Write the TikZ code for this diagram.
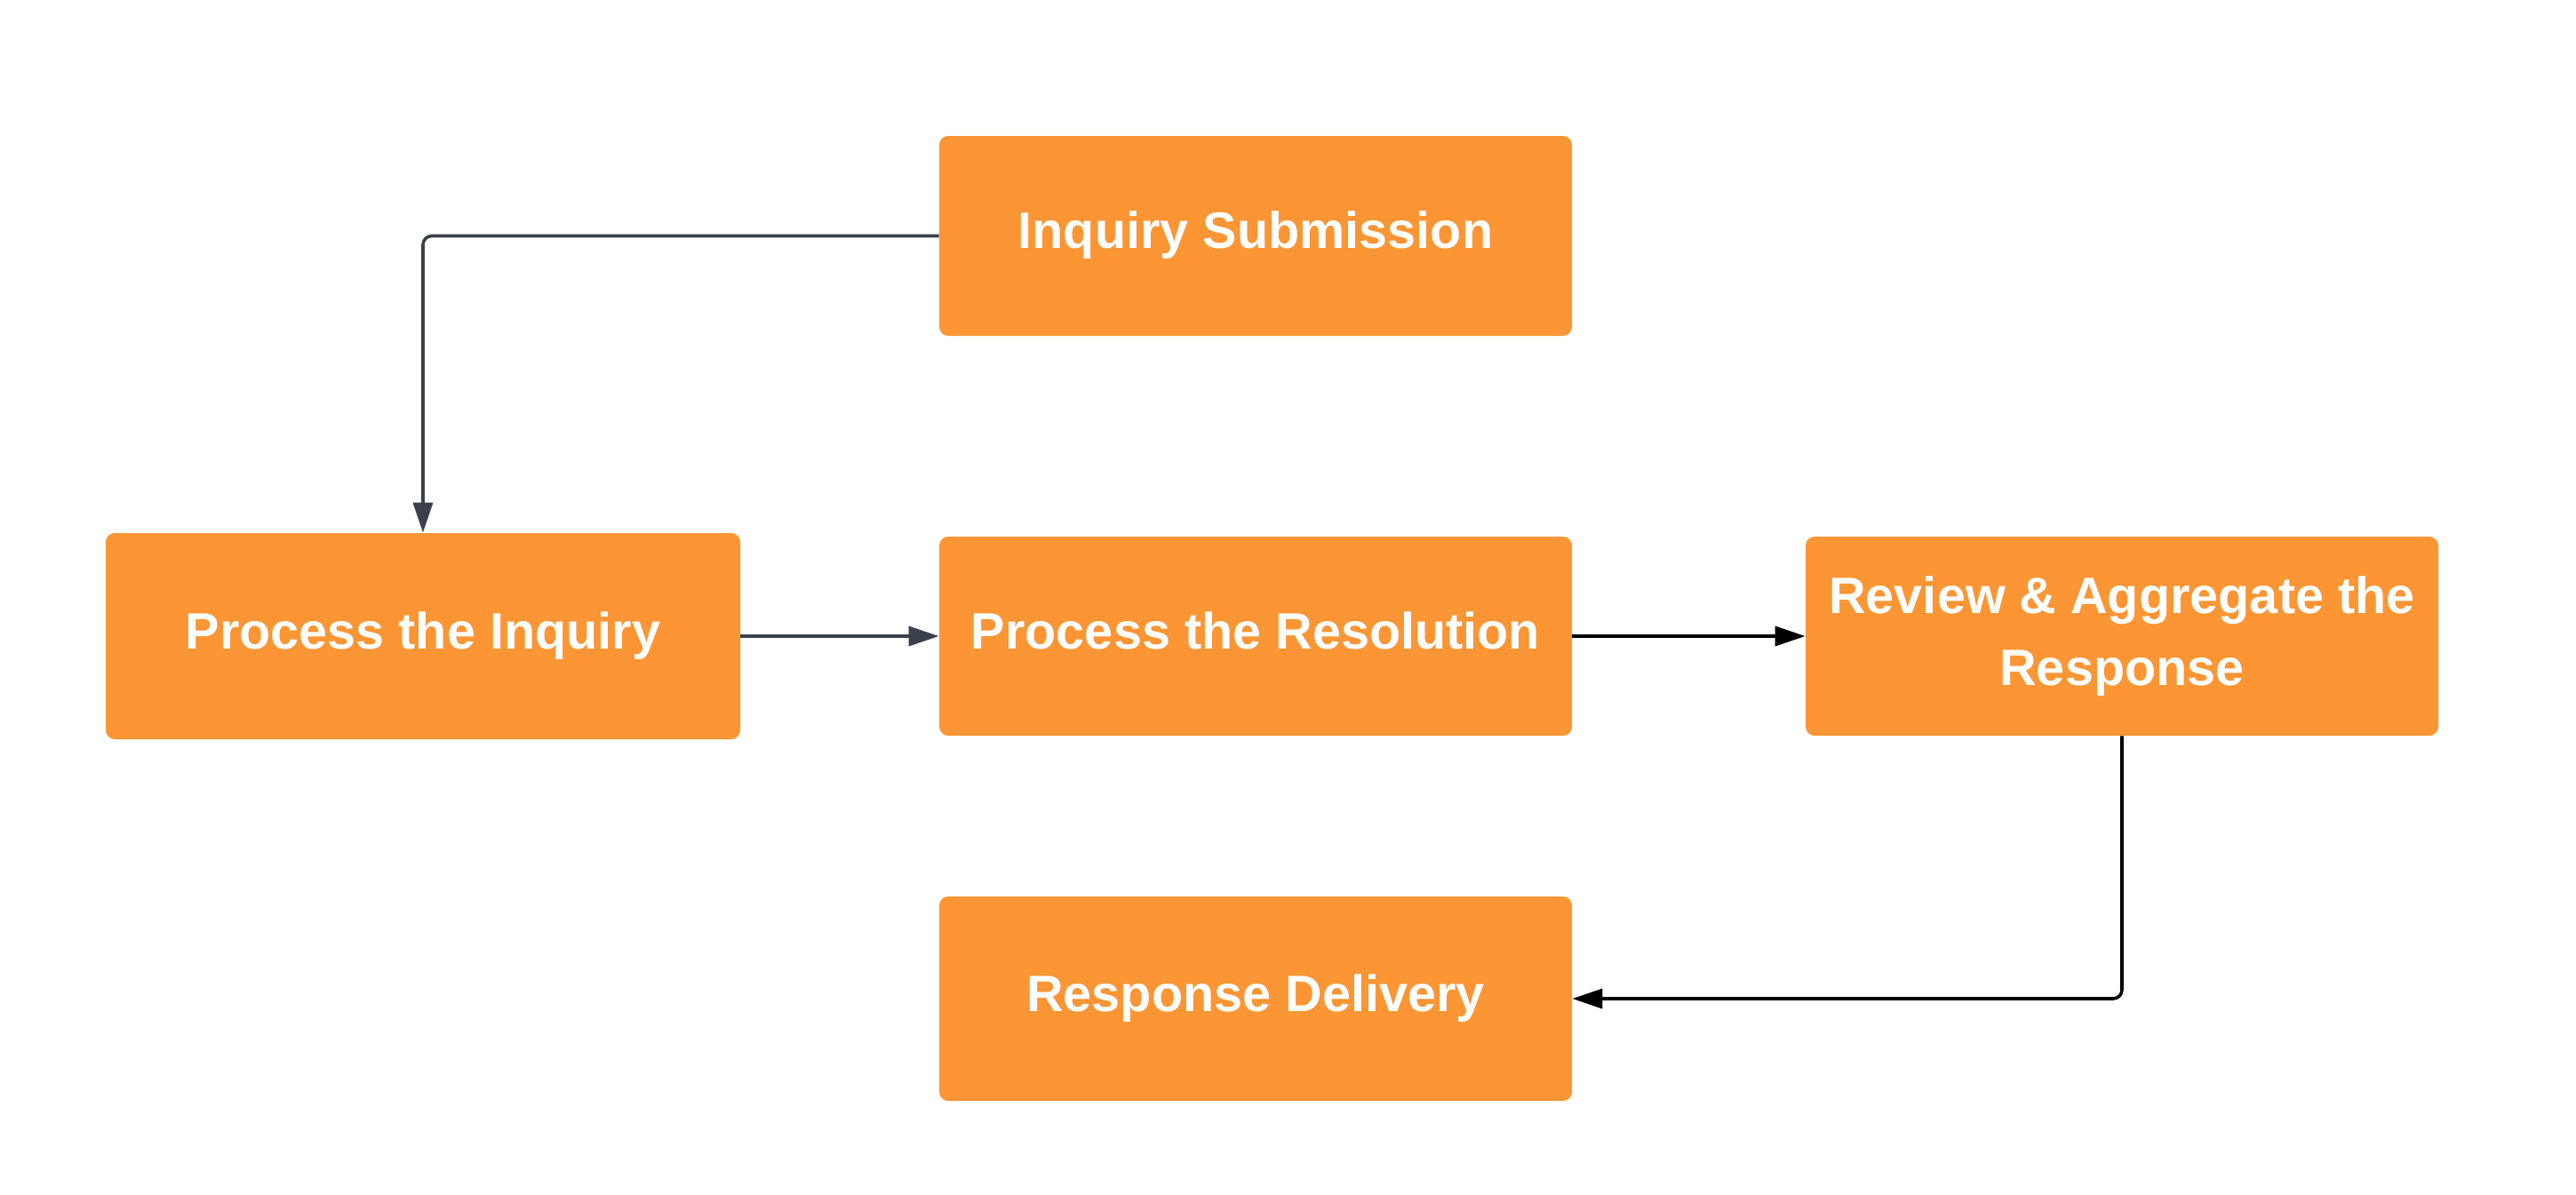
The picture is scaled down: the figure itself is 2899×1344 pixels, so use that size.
\documentclass[tikz,border=0pt]{standalone}
\usepackage{fontspec}
\setmainfont{Liberation Sans}
\usetikzlibrary{arrows.meta}
\definecolor{boxorange}{HTML}{FC9533}
\definecolor{conngray}{HTML}{3A414A}
\tikzset{
  stepbox/.style={fill=boxorange, rounded corners=5pt, inner sep=0pt,
    minimum width=356pt, text=white, align=center,
    font=\fontsize{28.8pt}{40.5pt}\selectfont\bfseries},
  oneline/.style={text height=21.6pt, text depth=7.2pt},
  conn/.style={line width=1.8pt, rounded corners=5pt,
    -{Triangle[length=17pt,width=11pt]}},
}
\begin{document}
\begin{tikzpicture}[x=0.5pt,y=-0.5pt]
\useasboundingbox (0,0) rectangle (2899,1344);
\node[stepbox, oneline, minimum height=112.5pt] (is) at (1413,265.5) {Inquiry Submission};
\node[stepbox, oneline, minimum width=357pt, minimum height=116pt] (pi) at (476,716) {Process the Inquiry};
\node[stepbox, oneline, minimum height=112pt] (pr) at (1413,716) {Process the Resolution};
\node[stepbox, minimum height=112pt] (ra) at (2388,716) {Review \& Aggregate the\\Response};
\node[stepbox, oneline, minimum height=115pt] (rd) at (1413,1124) {Response Delivery};
\draw[conn, draw=conngray] (is.west) -| (pi.north);
\draw[conn, draw=conngray] (pi.east) -- (pr.west);
\draw[conn, draw=black] (pr.east) -- (ra.west);
\draw[conn, draw=black] (ra.south) |- (rd.east);
\end{tikzpicture}
\end{document}
